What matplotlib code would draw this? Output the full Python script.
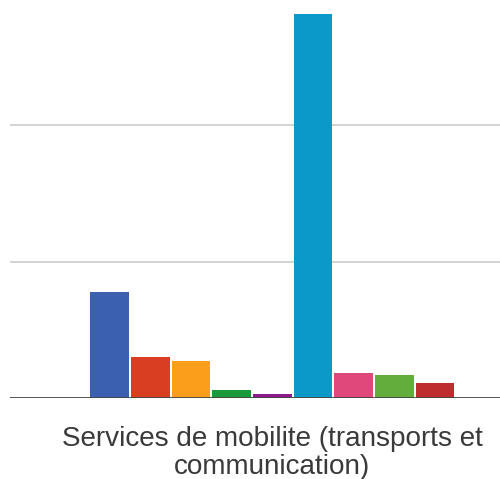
import matplotlib.pyplot as plt

series = ["s1", "s2", "s3", "s4", "s5", "s6", "s7", "s8", "s9"]
values = [7.8, 3.0, 2.7, 0.6, 0.3, 28.1, 1.8, 1.7, 1.1]
colors = ["#3c60b0", "#d93e22", "#fa9e1c", "#1a9a3a", "#8c1a8c",
          "#0a99c8", "#e0487c", "#62ad3c", "#be2e2e"]
category = "Services de mobilite (transports et\ncommunication)"

plt.rcParams['font.family'] = ['Liberation Sans', 'DejaVu Sans']

fig = plt.figure(figsize=(5, 4.79), dpi=100)
ax = fig.add_axes([10 / 500, 81 / 479, 490 / 500, 398 / 479])

x = list(range(len(values)))
ax.bar(x, values, width=0.95, color=colors, zorder=2)

for g in [10, 20]:
    ax.axhline(g, color="#cccccc", lw=1.2, zorder=1)
ax.axhline(0, color="#444444", lw=2, zorder=3)

ax.set_xlim(-2.445, 9.595)
ax.set_ylim(0, 29.16)
for s in ax.spines.values():
    s.set_visible(False)
ax.set_xticks([])
ax.set_yticks([])

ax.text(4, -2.05, category, ha="center", va="top", fontsize=20.1,
        color="#3a3a3a", linespacing=1.12)

fig.savefig("out.png", dpi=100)
